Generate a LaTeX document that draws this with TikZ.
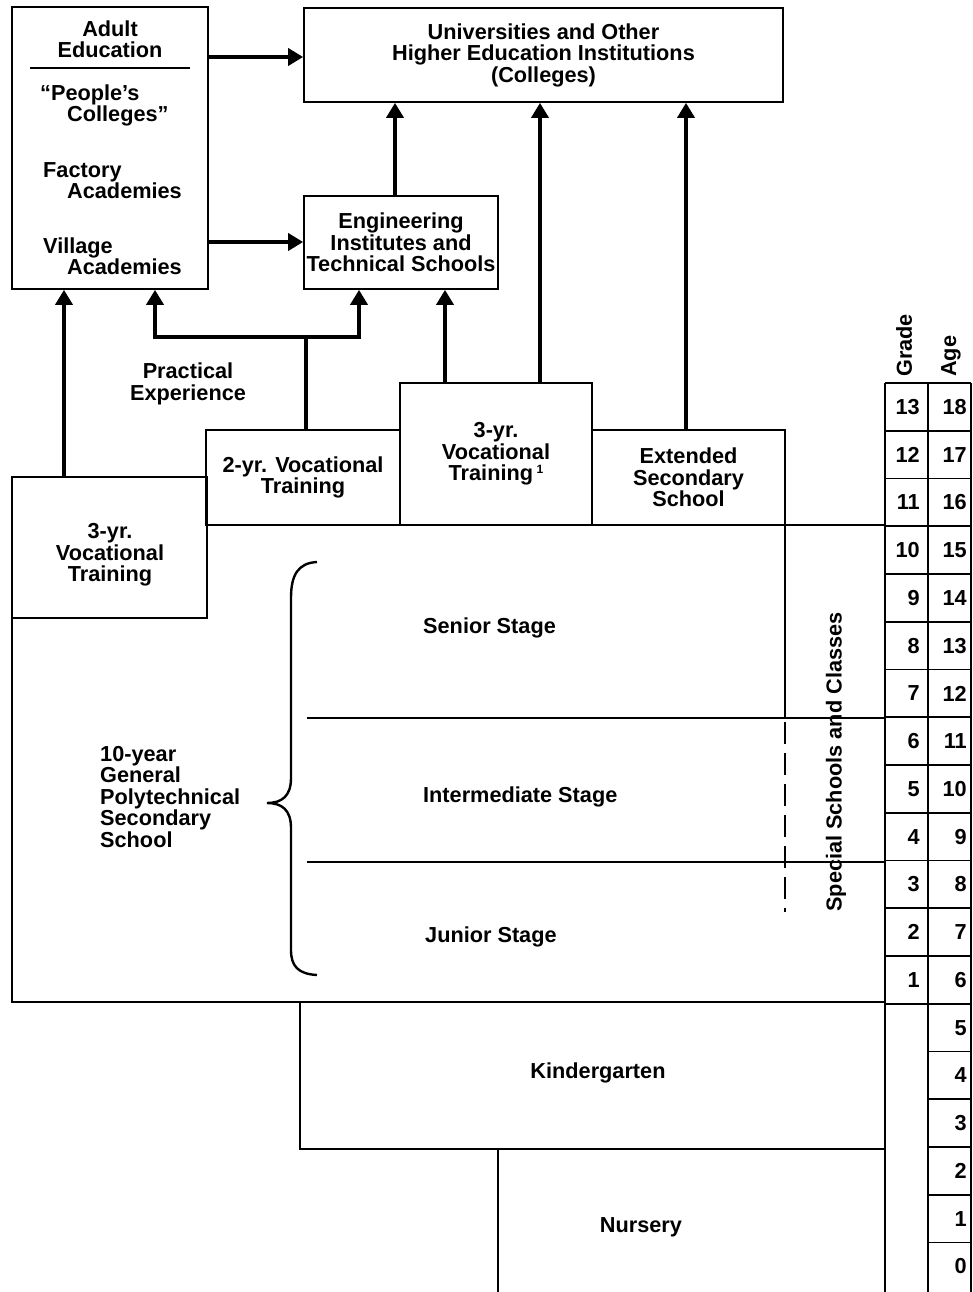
\documentclass[tikz,border=0pt]{standalone}
\usepackage{fontspec}
\setmainfont{Liberation Sans}
\usetikzlibrary{arrows.meta}
\begin{document}
\begin{tikzpicture}[x=1pt,y=-1pt,
  every node/.style={font=\fontsize{21.7}{21.5}\selectfont\bfseries, inner sep=0pt},
  ln/.style={line width=1.7pt},
  box/.style={draw, line width=1.7pt, align=center},
  thk/.style={line width=3.6pt, line join=miter, line cap=butt},
  arr/.style={thk, -{Triangle[width=17pt,length=15pt]}}]
\useasboundingbox (0,0) rectangle (973,1292);
\fill[white] (0,0) rectangle (973,1292);

% top boxes
\node[box, minimum width=196pt, minimum height=282pt] (adult) at (110,148) {};
\node[box, minimum width=479pt, minimum height=94pt] (univ) at (543.5,55) {Universities and Other\\Higher Education Institutions\\(Colleges)};
\node[box, minimum width=194pt, minimum height=93pt] (eng) at (401,242.5) {Engineering\\Institutes and\\Technical Schools};

% adult education contents
\node[anchor=base] (adt) at (110,37) {Adult};
\node[anchor=base] (edu) at (110,57.5) {Education};
\draw[ln] (30,68) -- (190,68);
\node[anchor=base west] (pc1) at (40,101) {``People's};
\node[anchor=base west] (pc2) at (67,122) {Colleges''};
\node[anchor=base west] (fa1) at (43,178) {Factory};
\node[anchor=base west] (fa2) at (67,199) {Academies};
\node[anchor=base west] (va1) at (43,253) {Village};
\node[anchor=base west] (va2) at (67,274) {Academies};

% vocational boxes
\node[box, minimum width=195pt, minimum height=141pt] (vocL) at (109.5,547.5) {};
\node[align=center] (vocLt) at (110,555) {3-yr.\\Vocational\\Training};
\node[box, minimum width=194pt, minimum height=95pt] (voc2) at (303,477.5) {2-yr. Vocational\\Training};
\node[box, minimum width=192pt, minimum height=142pt] (voc3) at (496,454) {3-yr.\\Vocational\\Training\,\raisebox{7pt}{\fontsize{12}{12}\selectfont 1}};
\node[box, minimum width=193pt, minimum height=95pt] (ext) at (688.5,477.5) {Extended\\Secondary\\School};

\node[align=center] (prac) at (188,384) {Practical\\Experience};

% arrows
\coordinate (ya) at (0,57);
\coordinate (yb) at (0,242);
\draw[arr] (adult.east |- ya) -- (univ.west |- ya);
\draw[arr] (adult.east |- yb) -- (eng.west |- yb);
\coordinate (x1) at (395,0);
\draw[arr] (eng.north -| x1) -- (univ.south -| x1);
\coordinate (x2) at (540,0);
\draw[arr] (voc3.north -| x2) -- (univ.south -| x2);
\coordinate (x3) at (686,0);
\draw[arr] (ext.north -| x3) -- (univ.south -| x3);
\coordinate (x4) at (445,0);
\draw[arr] (voc3.north -| x4) -- (eng.south -| x4);
\coordinate (x5) at (64,0);
\draw[arr] (vocL.north -| x5) -- (adult.south -| x5);
\coordinate (pj) at (306,337);
\coordinate (pl) at (155,337);
\coordinate (pr) at (359,337);
\draw[thk] (voc2.north -| pj) -- (pj);
\draw[arr] (pj) -- (pl) -- (adult.south -| pl);
\draw[arr] (pj) -- (pr) -- (eng.south -| pr);

% main school frame
\draw[ln] (12,618) -- (12,1002) -- (885,1002);
\draw[ln] (207,525) -- (885,525);
\draw[ln] (307,718) -- (885,718);
\draw[ln] (307,862) -- (885,862);
\draw[ln] (785,525) -- (785,718);
\draw[ln, dash pattern=on 22pt off 9pt] (785,722) -- (785,912);

% brace
\draw[line width=2.4pt] (317,562) .. controls (298,563) and (291,575) .. (291,598)
  -- (291,778) .. controls (291,796) and (282,803) .. (267,803)
  .. controls (282,803) and (291,810) .. (291,828)
  -- (291,950) .. controls (291,966) and (298,974) .. (317,975);

\node[align=left, anchor=west] (gen) at (100,797) {10-year\\General\\Polytechnical\\Secondary\\School};
\node[anchor=west] (sen) at (423,628) {Senior Stage};
\node[anchor=west] (int) at (423,797) {Intermediate Stage};
\node[anchor=west] (jun) at (425,937) {Junior Stage};
\node[rotate=90] (spec) at (836,762) {Special Schools and Classes};

% kindergarten and nursery
\draw[ln] (300,1002) -- (300,1149) -- (885,1149);
\draw[ln] (498,1149) -- (498,1292);
\node (kg) at (598,1073) {Kindergarten};
\node (nur) at (641,1227) {Nursery};

% grade / age columns
\draw[ln] (885,383) -- (885,1292);
\draw[ln] (928,383) -- (928,1292);
\draw[ln] (971,383) -- (971,1292);
\foreach \i in {0,...,13} { \draw[ln] (885,383+\i*47.75) -- (928,383+\i*47.75); }
\foreach \i in {0,...,18} { \draw[ln] (928,383+\i*47.75) -- (971,383+\i*47.75); }
\foreach \g in {13,...,1} {
  \pgfmathsetmacro\yy{383+(13-\g)*47.75+24}
  \node[anchor=east] (gn\g) at (920,\yy) {\g};
}
\foreach \a in {18,...,0} {
  \pgfmathsetmacro\yy{383+(18-\a)*47.75+24}
  \node[anchor=east] (an\a) at (967,\yy) {\a};
}
\node[rotate=90, anchor=west] (gradeh) at (904,377) {Grade};
\node[rotate=90, anchor=west] (ageh) at (951,377) {Age};
\end{tikzpicture}
\end{document}
